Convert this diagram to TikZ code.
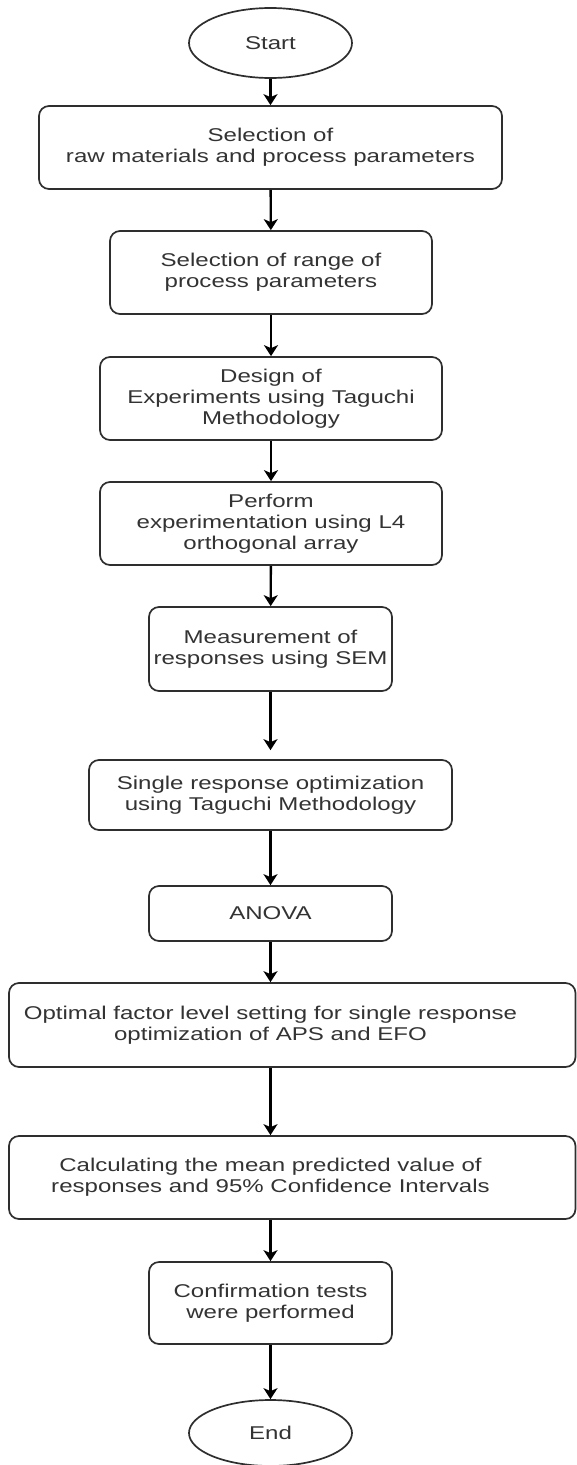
\documentclass[tikz,border=0pt]{standalone}
\usepackage{fontspec}
\setmainfont[FakeStretch=1.3]{Liberation Sans}
\usetikzlibrary{arrows.meta,shapes.geometric}
\definecolor{boxline}{gray}{0.18}
\definecolor{txt}{gray}{0.2}
\begin{document}
\begin{tikzpicture}[x=1pt,y=-1pt,
  box/.style={draw=boxline, line width=1.7pt, rounded corners=10pt, inner sep=0pt, align=center, text=txt, font=\fontsize{18.5}{21}\selectfont},
  term/.style={draw=boxline, line width=1.7pt, ellipse, inner sep=0pt, minimum width=163pt, minimum height=70pt, text=txt, font=\fontsize{18.5}{21}\selectfont},
  lbl/.style={inner sep=0pt, align=center, text=txt, font=\fontsize{18.5}{21}\selectfont},
  arr/.style={-{Stealth[length=11pt,width=14pt,inset=3pt]}, line width=2.4pt, draw=black}]
\useasboundingbox[fill=white] (0,0) rectangle (577,1465);

\node[term] (start) at (270.5,43) {Start};
\node[box, minimum width=463pt, minimum height=83pt] (b1) at (270.5,147.5) {Selection of\\raw materials and process parameters};
\node[box, minimum width=322pt, minimum height=83pt] (b2) at (271,272.5) {Selection of range of\\process parameters};
\node[box, minimum width=342pt, minimum height=83pt] (b3) at (271,398.5) {Design of\\Experiments using Taguchi\\Methodology};
\node[box, minimum width=342pt, minimum height=83pt] (b4) at (271,523.5) {Perform\\experimentation using L4\\orthogonal array};
\node[box, minimum width=243pt, minimum height=84pt] (b5) at (270.5,649) {Measurement of\\responses using SEM};
\node[box, minimum width=363pt, minimum height=70pt] (b6) at (270.5,795) {Single response optimization\\using Taguchi Methodology};
\node[box, minimum width=243pt, minimum height=55pt] (b7) at (270.5,913.5) {ANOVA};
\node[box, minimum width=566.5pt, minimum height=84pt] (b8) at (292.25,1025) {};
\node[lbl] (b8t) at (270.5,1025) {Optimal factor level setting for single response\\optimization of APS and EFO};
\node[box, minimum width=566.5pt, minimum height=83pt] (b9) at (292.25,1177.5) {};
\node[lbl] (b9t) at (270.5,1177.5) {Calculating the mean predicted value of\\responses and 95\% Confidence Intervals};
\node[box, minimum width=243pt, minimum height=82pt] (b10) at (270.5,1303) {Confirmation tests\\were performed};
\node[term, minimum height=66pt] (end) at (270.5,1433) {End};

\draw[arr] (start) -- (b1);
\draw[arr] (b1) -- (b2);
\draw[arr] (b2) -- (b3);
\draw[arr] (b3) -- (b4);
\draw[arr] (b4) -- (b5);
\draw[arr, shorten >=9pt] (b5) -- (b6);
\draw[arr] (b6) -- (b7);
\draw[arr] (b7.south) -- (b7.south |- b8.north);
\draw[arr] (b8.south -| b7.south) -- (b9.north -| b7.south);
\draw[arr] (b9.south -| b10.north) -- (b10.north);
\draw[arr] (b10) -- (end);
\end{tikzpicture}
\end{document}
